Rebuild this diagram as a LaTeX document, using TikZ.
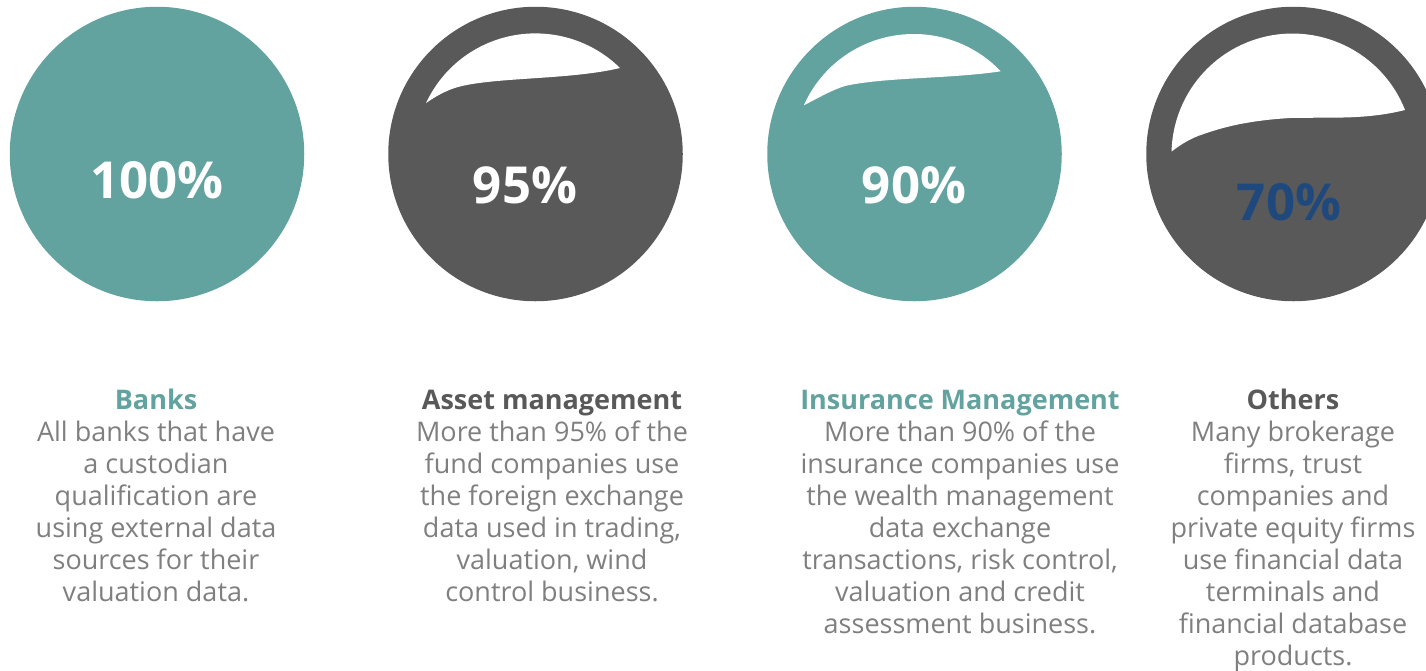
\documentclass[tikz,border=0pt]{standalone}
\usepackage{fontspec}
\setmainfont{Open Sans}
\definecolor{teal}{HTML}{62A39F}
\definecolor{dark}{HTML}{595959}
\definecolor{body}{HTML}{7F7F7F}
\definecolor{navy}{HTML}{1F497D}
\tikzset{
  x=1pt,y=-1pt,
  disc/.style={circle,inner sep=0pt,minimum size=294.5pt},
  pct/.style={font=\fontsize{51}{51}\selectfont\bfseries,inner sep=0pt,text=white},
  desc/.style={align=center,inner sep=0pt,text=body,anchor=north,font=\fontsize{27}{32}\selectfont}
}
\begin{document}
\begin{tikzpicture}
\useasboundingbox (0,0) rectangle (1426,670);
\clip (0,0) rectangle (1426,670);
\node[disc,fill=teal] (c1) at (157,154) {};
\node[disc,fill=dark] (c2) at (535.5,154) {};
\node[disc,fill=teal] (c3) at (914.5,154) {};
\node[disc,fill=dark] (c4) at (1293.5,154) {};
% white gaps
\fill[white] (620,68) arc[start angle=-45.5,end angle=-155,radius=120.7]
  .. controls (436,96) and (447,90) .. (458,87)
  .. controls (495,77) and (570,80) .. (620,68) -- cycle;
\fill[white] (1000.7,71.3) arc[start angle=-43.6,end angle=-156,radius=120.2]
  .. controls (820,97) and (832,90) .. (845,86)
  .. controls (885,77) and (950,79) .. (1000.7,71.3) -- cycle;
\fill[white] (1405,110) arc[start angle=-21.6,end angle=-178.6,radius=121]
  .. controls (1180,145) and (1188,140) .. (1198,136)
  .. controls (1215,130) and (1240,121) .. (1290,118)
  .. controls (1330,117) and (1365,120) .. (1405,110) -- cycle;
\node[pct] (p1) at (157,180) {100\%};
\node[pct] (p2) at (525,185) {95\%};
\node[pct] (p3) at (914,185) {90\%};
\node[pct,text=navy] (p4) at (1289,202) {70\%};
\node[desc] (t1) at (156,389) {{\bfseries\color{teal}Banks}\\All banks that have\\a custodian\\qualification are\\using external data\\sources for their\\valuation data.};
\node[desc] (t2) at (552,390) {{\bfseries\color{dark}Asset management}\\More than 95\% of the\\fund companies use\\the foreign exchange\\data used in trading,\\valuation, wind\\control business.};
\node[desc] (t3) at (960,390) {{\bfseries\color{teal}Insurance Management}\\More than 90\% of the\\insurance companies use\\the wealth management\\data exchange\\transactions, risk control,\\valuation and credit\\assessment business.};
\node[desc] (t4) at (1293,389) {{\bfseries\color{dark}Others}\\Many brokerage\\firms, trust\\companies and\\private equity firms\\use financial data\\terminals and\\financial database\\products.};
\end{tikzpicture}
\end{document}
